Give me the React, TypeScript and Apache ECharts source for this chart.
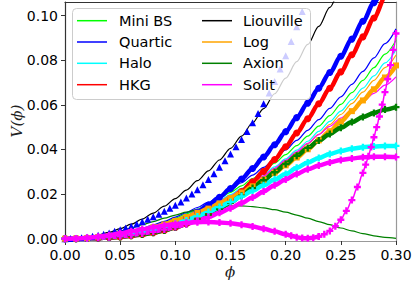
import React, { useEffect, useRef } from "react";
import * as echarts from "echarts";

// φ grid (0.00 .. 0.30 step 0.01)
const PHI = [0, 0.01, 0.02, 0.03, 0.04, 0.05, 0.06, 0.07, 0.08, 0.09, 0.1, 0.11, 0.12, 0.13, 0.14, 0.15, 0.16, 0.17, 0.18, 0.19, 0.2, 0.21, 0.22, 0.23, 0.24, 0.25, 0.26, 0.27, 0.28, 0.29, 0.3];

// thin model lines
const MINI_BS = [0, 0.0001, 0.0004, 0.0008, 0.0014, 0.0023, 0.0033, 0.0044, 0.0059, 0.0074, 0.0092, 0.0111, 0.0132, 0.0155, 0.0181, 0.0208, 0.0237, 0.027, 0.0303, 0.0339, 0.0377, 0.0417, 0.046, 0.0505, 0.0552, 0.0602, 0.0655, 0.071, 0.0767, 0.0828, 0.089];
const QUARTIC = [0, 0.0001, 0.0004, 0.0009, 0.0015, 0.0024, 0.0035, 0.0047, 0.0062, 0.0078, 0.0097, 0.0117, 0.014, 0.0164, 0.0191, 0.022, 0.0251, 0.0285, 0.032, 0.0358, 0.0398, 0.0441, 0.0486, 0.0534, 0.0584, 0.0636, 0.0692, 0.075, 0.0811, 0.0875, 0.0941];
const HALO = [0, 0.0001, 0.0004, 0.0008, 0.0014, 0.0022, 0.0032, 0.0042, 0.0056, 0.007, 0.0087, 0.0105, 0.0126, 0.0148, 0.0172, 0.0198, 0.0226, 0.0257, 0.0288, 0.0322, 0.0358, 0.0397, 0.0437, 0.0481, 0.0526, 0.0572, 0.0623, 0.0675, 0.073, 0.0788, 0.0847];
const LIOUVILLE = [0, 0.0002, 0.0007, 0.0016, 0.0029, 0.0045, 0.0065, 0.0088, 0.0115, 0.0146, 0.018, 0.0218, 0.026, 0.0304, 0.0353, 0.0405, 0.046, 0.052, 0.0583, 0.065, 0.072, 0.0794, 0.0871, 0.0952, 0.1037, 0.1125, 0.1217, 0.1312, 0.1411, 0.1514, 0.162];
const LOG = [0, 0.0001, 0.0004, 0.0008, 0.0013, 0.0021, 0.0031, 0.0041, 0.0054, 0.0068, 0.0085, 0.0102, 0.0123, 0.0144, 0.0167, 0.0193, 0.022, 0.025, 0.028, 0.0314, 0.0349, 0.0386, 0.0426, 0.0468, 0.0512, 0.0557, 0.0606, 0.0657, 0.071, 0.0767, 0.0824];
const AXION = [0, 0.00015, 0.0006, 0.0013, 0.0023, 0.0035, 0.0048, 0.0063, 0.0077, 0.0092, 0.0106, 0.0119, 0.013, 0.0138, 0.0144, 0.0147, 0.0147, 0.0144, 0.0138, 0.013, 0.0119, 0.0106, 0.0092, 0.0077, 0.0063, 0.0048, 0.0035, 0.0023, 0.0013, 0.0006, 0.00015];
const SOLIT = [0, 0.0001, 0.0004, 0.0008, 0.0014, 0.0022, 0.0031, 0.0042, 0.0055, 0.0069, 0.0085, 0.0102, 0.0122, 0.0143, 0.0166, 0.0192, 0.022, 0.025, 0.0282, 0.0316, 0.0352, 0.039, 0.0428, 0.0467, 0.0504, 0.0541, 0.0578, 0.0615, 0.0652, 0.0689, 0.0726];

// marker series on the PHI grid
const QUARTIC_DOTS = [0, 0, 0.0001, 0.0003, 0.0006, 0.0011, 0.0018, 0.0027, 0.0038, 0.0052, 0.007, 0.0093, 0.012, 0.0151, 0.0186, 0.0225, 0.0268, 0.0315, 0.0366, 0.0421, 0.048, 0.0543, 0.0608, 0.0675, 0.0745, 0.0818, 0.0895, 0.0975, 0.1058, 0.1145, 0.1235];
const HKG_DOTS = [0, 0, 0.0001, 0.0003, 0.0005, 0.0008, 0.0013, 0.0019, 0.0027, 0.0037, 0.005, 0.0067, 0.0088, 0.0113, 0.0142, 0.0175, 0.0212, 0.0255, 0.0302, 0.0355, 0.0412, 0.0474, 0.0538, 0.0605, 0.0675, 0.0748, 0.0825, 0.0905, 0.099, 0.108, 0.117];
const LOG_SQ = [0, 0.0001, 0.0003, 0.0007, 0.0012, 0.002, 0.0029, 0.0039, 0.0051, 0.0064, 0.008, 0.0097, 0.0116, 0.0135, 0.0158, 0.0182, 0.0207, 0.0235, 0.0264, 0.0296, 0.0329, 0.0364, 0.0401, 0.0441, 0.0482, 0.0525, 0.0572, 0.062, 0.067, 0.0723, 0.0777];
const AXION_DOTS = [0, 0, 0.0001, 0.0003, 0.0005, 0.0008, 0.0013, 0.0019, 0.0027, 0.0037, 0.005, 0.0066, 0.0085, 0.0108, 0.0134, 0.0162, 0.0193, 0.0227, 0.0262, 0.0298, 0.0335, 0.0372, 0.0407, 0.044, 0.047, 0.0498, 0.0523, 0.0546, 0.0564, 0.0579, 0.059];
const HALO_PLUS = [0, 0.0001, 0.0002, 0.0005, 0.0009, 0.0014, 0.0021, 0.003, 0.004, 0.0052, 0.0066, 0.0082, 0.01, 0.012, 0.0142, 0.0165, 0.019, 0.0215, 0.024, 0.0265, 0.029, 0.0318, 0.0342, 0.0362, 0.038, 0.0393, 0.0403, 0.041, 0.0414, 0.0416, 0.0416];
const SOLIT_PLUS = [0, 0.0001, 0.0002, 0.0004, 0.0007, 0.0011, 0.0016, 0.0023, 0.0031, 0.0041, 0.0052, 0.0065, 0.008, 0.0097, 0.0116, 0.0137, 0.016, 0.0185, 0.0212, 0.024, 0.0266, 0.029, 0.0311, 0.0328, 0.0342, 0.0353, 0.036, 0.0365, 0.0367, 0.0367, 0.0366];

// triangles (finer φ grid)
const TRI_PHI = [0, 0.005, 0.01, 0.015, 0.02, 0.025, 0.03, 0.035, 0.04, 0.045, 0.05, 0.055, 0.06, 0.065, 0.07, 0.075, 0.08, 0.085, 0.09, 0.095, 0.1, 0.105, 0.11, 0.115, 0.12, 0.125, 0.13, 0.135, 0.14, 0.145, 0.15, 0.155, 0.16, 0.165, 0.17, 0.175, 0.18, 0.185, 0.19, 0.195, 0.2, 0.205, 0.21, 0.215, 0.22, 0.225];
const TRI_V = [0, 0.00005, 0.0002, 0.0004, 0.0007, 0.0011, 0.0015, 0.002, 0.0026, 0.0033, 0.004, 0.0048, 0.0056, 0.0066, 0.0076, 0.0087, 0.0098, 0.011, 0.0123, 0.0136, 0.015, 0.0165, 0.0182, 0.02, 0.022, 0.0242, 0.0265, 0.0291, 0.032, 0.0349, 0.038, 0.0412, 0.0445, 0.0481, 0.052, 0.0561, 0.0605, 0.0653, 0.0705, 0.0761, 0.082, 0.0884, 0.095, 0.1019, 0.109, 0.1165];

// Solit dotted curve: bump part and rising part
const SOLIT_BUMP_PHI = [0, 0.01, 0.02, 0.03, 0.04, 0.05, 0.06, 0.07, 0.08, 0.09, 0.1, 0.11, 0.12, 0.13, 0.14, 0.15, 0.16, 0.17, 0.18, 0.19, 0.2, 0.205, 0.21, 0.215, 0.22, 0.225, 0.23];
const SOLIT_BUMP_V = [0, 0.0001, 0.0004, 0.0009, 0.0016, 0.0024, 0.0033, 0.0042, 0.0051, 0.0059, 0.0066, 0.0071, 0.0074, 0.0075, 0.0073, 0.0069, 0.0063, 0.0055, 0.0045, 0.0033, 0.002, 0.0013, 0.0007, 0.0003, 0.0002, 0.0004, 0.001];
const SOLIT_RISE_PHI = [0.23, 0.235, 0.24, 0.245, 0.25, 0.255, 0.26, 0.265, 0.27, 0.2725, 0.275, 0.2775, 0.28, 0.2825, 0.285, 0.2875, 0.29, 0.2925, 0.295, 0.2975, 0.3];
const SOLIT_RISE_V = [0.001, 0.002, 0.0035, 0.0056, 0.0085, 0.0125, 0.0173, 0.0232, 0.0295, 0.0332, 0.037, 0.0411, 0.0455, 0.05, 0.0548, 0.0601, 0.0657, 0.0716, 0.0778, 0.0847, 0.092];

const X_TICKS = [0, 0.05, 0.1, 0.15, 0.2, 0.25, 0.3];
const Y_TICKS = [0, 0.02, 0.04, 0.06, 0.08, 0.1];

const LEGEND_NAMES = ["Mini BS", "Quartic", "Halo", "HKG", "Liouville", "Log", "Axion", "Solit"];
const LEGEND_COLORS = ["#00ff00", "#0000ff", "#00ffff", "#ff0000", "#000000", "#ffa500", "#008000", "#ff00ff"];

const PLUS = "path://M4,0H8V4H12V8H8V12H4V8H0V4H4Z";

const pairs = (xs: number[], ys: number[]) => ys.map((y, i) => [xs[i], y]);

function lineSeries(vals: number[], color: string, z = 2) {
  return {
    type: "line",
    data: pairs(PHI, vals),
    showSymbol: false,
    smooth: 0.3,
    smoothMonotone: "x",
    lineStyle: { color, width: 1.2 },
    z,
  };
}

function markerSeries(xs: number[], vals: number[], color: string, symbol: string, size: number, z: number, lineWidth = 4.5) {
  return {
    type: "line",
    data: pairs(xs, vals),
    showSymbol: true,
    symbol,
    symbolSize: size,
    smooth: 0.3,
    smoothMonotone: "x",
    itemStyle: { color, borderWidth: 0 },
    lineStyle: { color, width: lineWidth, opacity: lineWidth > 0 ? 1 : 0 },
    z,
  };
}

export default function App() {
  const ref = useRef<HTMLDivElement>(null);
  useEffect(() => {
    if (!ref.current) return;
    const chart = echarts.init(ref.current, undefined, { renderer: "svg" });
    const font = "DejaVu Sans";
    const rowY = [20.7, 42, 63.3, 84.7];
    const els: any[] = [
      {
        type: "rect",
        shape: { x: 72.5, y: 8.5, width: 238, height: 91, r: 4 },
        style: { fill: "rgba(255,255,255,0.8)", stroke: "#cccccc", lineWidth: 1 },
        z: 100,
      },
    ];
    LEGEND_NAMES.forEach((name, i) => {
      const col = Math.floor(i / 4);
      const row = i % 4;
      const lx = col === 0 ? 77 : 202;
      const tx = col === 0 ? 119 : 243;
      els.push({
        type: "line",
        shape: { x1: lx, y1: rowY[row], x2: lx + 30, y2: rowY[row] },
        style: { stroke: LEGEND_COLORS[i], lineWidth: 1.5 },
        z: 101,
      });
      els.push({
        type: "text",
        x: tx,
        y: rowY[row],
        style: { text: name, fontSize: 14.5, fontFamily: font, fill: "#000", textAlign: "left", textVerticalAlign: "middle" },
        z: 101,
      });
    });
    els.push({
      type: "text",
      x: 17,
      y: 121,
      rotation: Math.PI / 2,
      style: { text: "V(ϕ)", fontSize: 15, fontFamily: "DejaVu Serif", fontStyle: "italic", fill: "#222", textAlign: "center", textVerticalAlign: "middle" },
      z: 101,
    });
    els.push({
      type: "text",
      x: 230,
      y: 272,
      style: { text: "ϕ", fontSize: 15, fontFamily: "DejaVu Serif", fontStyle: "italic", fill: "#222", textAlign: "center", textVerticalAlign: "middle" },
      z: 101,
    });

    const option: any = {
      animation: false,
      grid: { left: 65, right: 20, top: 2, bottom: 42, containLabel: false },
      xAxis: [
        {
          type: "value",
          min: 0,
          max: 0.3,
          interval: 0.05,
          position: "bottom",
          axisLine: { show: true, onZero: false, lineStyle: { color: "#999999", width: 1.2 } },
          axisTick: { show: true, length: 4, lineStyle: { color: "#333", width: 1 }, customValues: X_TICKS },
          axisLabel: { fontSize: 14, fontFamily: font, color: "#000", margin: 7, formatter: (v: number) => v.toFixed(2), customValues: X_TICKS, showMaxLabel: true, showMinLabel: true },
          splitLine: { show: false },
        },
        {
          type: "value",
          min: 0,
          max: 0.3,
          position: "top",
          axisLine: { show: true, onZero: false, lineStyle: { color: "#333", width: 1.2 } },
          axisTick: { show: false },
          axisLabel: { show: false },
          splitLine: { show: false },
        },
      ],
      yAxis: [
        {
          type: "value",
          min: -0.00103,
          max: 0.10614,
          position: "left",
          axisLine: { show: true, onZero: false, lineStyle: { color: "#333", width: 1.2 } },
          axisTick: { show: true, length: 4, lineStyle: { color: "#333", width: 1 }, customValues: Y_TICKS },
          axisLabel: { fontSize: 14, fontFamily: font, color: "#000", margin: 7, formatter: (v: number) => v.toFixed(2), customValues: Y_TICKS },
          splitLine: { show: false },
        },
        {
          type: "value",
          min: -0.00103,
          max: 0.10614,
          position: "right",
          axisLine: { show: true, onZero: false, lineStyle: { color: "#999999", width: 1.2 } },
          axisTick: { show: false },
          axisLabel: { show: false },
          splitLine: { show: false },
        },
      ],
      series: [
        lineSeries(MINI_BS, "#00ff00"),
        lineSeries(QUARTIC, "#0000ff"),
        lineSeries(HALO, "#00ffff"),
        lineSeries(HKG_DOTS, "#ff0000"),
        lineSeries(LIOUVILLE, "#000000"),
        lineSeries(LOG, "#ffa500"),
        lineSeries(AXION, "#008000"),
        lineSeries(SOLIT, "#ff00ff"),
        markerSeries(TRI_PHI, TRI_V, "#0000ff", "triangle", 7, 3, 0),
        markerSeries(PHI, QUARTIC_DOTS, "#0000ff", "circle", 7, 3),
        markerSeries(PHI, HKG_DOTS, "#ff0000", "circle", 7, 3),
        markerSeries(PHI, LOG_SQ, "#ffa500", "rect", 6, 3),
        markerSeries(PHI, AXION_DOTS, "#008000", PLUS, 7, 3),
        markerSeries(PHI, HALO_PLUS, "#00ffff", PLUS, 7, 3),
        markerSeries(PHI, SOLIT_PLUS, "#ff00ff", PLUS, 7, 3),
        markerSeries(SOLIT_BUMP_PHI, SOLIT_BUMP_V, "#ff00ff", PLUS, 7, 4, 4.5),
        markerSeries(SOLIT_RISE_PHI, SOLIT_RISE_V, "#ff00ff", PLUS, 7, 4, 1.5),
      ],
      graphic: { elements: els },
    };
    chart.setOption(option);
    return () => chart.dispose();
  }, []);
  return <div ref={ref} style={{ position: "fixed", left: 0, top: 0, width: 416, height: 283, background: "#fff" }} />;
}
